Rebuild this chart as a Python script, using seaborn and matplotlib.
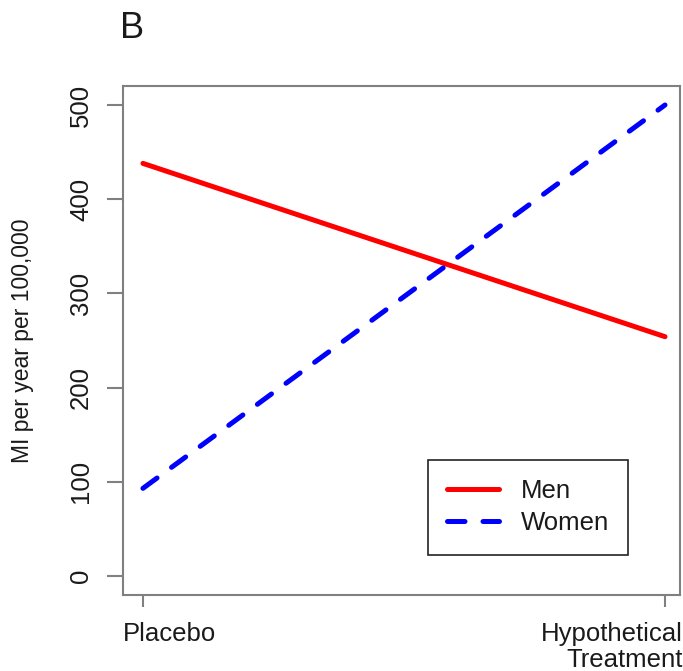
import pandas as pd
import seaborn as sns
import matplotlib.pyplot as plt
from matplotlib.transforms import ScaledTranslation

conditions = ['Placebo', 'Hypothetical\nTreatment']
groups = ['Men', 'Women']
men_rate = [438, 254]
women_rate = [93, 500]
y_ticks = [0, 100, 200, 300, 400, 500]

df = pd.DataFrame({
    'condition': conditions * 2,
    'rate': men_rate + women_rate,
    'group': [groups[0]] * 2 + [groups[1]] * 2,
})

sns.set_style('white')
plt.rcParams['font.family'] = ['Liberation Sans', 'DejaVu Sans']
plt.rcParams['text.color'] = '#1a1a1a'

fig = plt.figure(figsize=(6.83, 6.71), dpi=100)
ax = fig.add_axes([0.180, 0.1133, 0.8156, 0.7586])

sns.lineplot(data=df, x='condition', y='rate', hue='group', style='group',
             palette={'Men': 'red', 'Women': 'blue'},
             dashes={'Men': '', 'Women': (3.5, 3.6)},
             linewidth=3.6, sort=False, ax=ax)
for ln in ax.lines:
    ln.set_dash_capstyle('round')
    ln.set_solid_capstyle('round')

ax.set_xlim(-0.0383, 1.0287)
ax.set_ylim(-20.2, 520.2)
ax.set_yticks(y_ticks)
ax.set_xlabel('')
ax.set_ylabel('MI per year per 100,000', fontsize=16.5, color='#1a1a1a')
ax.yaxis.set_label_coords(-0.1795, 0.5)
ax.yaxis.label.set_va('center')

for s in ax.spines.values():
    s.set_color('#808080')
    s.set_linewidth(1.5)

ax.tick_params(axis='y', which='major', left=True, length=11.5, width=1.5,
               color='#808080', pad=10, labelsize=18.5, labelcolor='#1a1a1a',
               labelrotation=90)
ax.tick_params(axis='x', which='major', bottom=True, length=8.6, width=1.5,
               color='#808080', pad=11, labelsize=18.5, labelcolor='#1a1a1a')
for lab in ax.get_yticklabels():
    lab.set_va('center')

xl = ax.get_xticklabels()
xl[0].set_ha('left')
xl[0].set_transform(xl[0].get_transform() + ScaledTranslation(-0.205, 0, fig.dpi_scale_trans))
xl[1].set_ha('right')
xl[1].set_multialignment('right')
xl[1].set_linespacing(1.12)
xl[1].set_transform(xl[1].get_transform() + ScaledTranslation(0.18, 0, fig.dpi_scale_trans))

handles, labels = ax.get_legend_handles_labels()
for h in handles:
    h.set_dash_capstyle('round')
    h.set_solid_capstyle('round')
leg = ax.legend(handles, labels, loc='upper left', bbox_to_anchor=(0.5476, 0.2652),
                fontsize=18.5, frameon=True, fancybox=False, framealpha=1,
                edgecolor='#222222', borderpad=0.75, labelspacing=0.32,
                handlelength=2.0, handletextpad=0.85, borderaxespad=0)
leg.get_frame().set_linewidth(1.2)

fig.text(0.176, 1 - 28 / 671, 'B', fontsize=26, ha='left', va='center')

fig.savefig('out.png', dpi=100)
